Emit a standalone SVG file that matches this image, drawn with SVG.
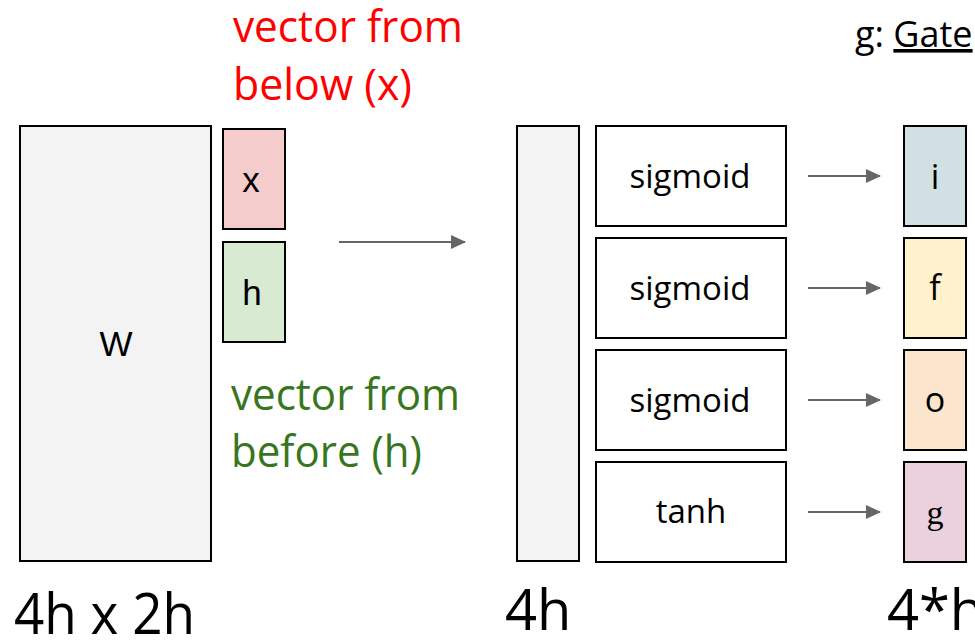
<svg xmlns="http://www.w3.org/2000/svg" width="975" height="640" viewBox="0 0 975 640">
<style>
.box{stroke:#000;stroke-width:2}
.t{font-family:"Open Sans","Noto Sans",sans-serif;fill:#000}
.a{font-family:"Liberation Sans",Arial,sans-serif;fill:#000;font-size:35px;text-anchor:middle}
.conn{stroke:#666;stroke-width:2;fill:none;marker-end:url(#ah)}
</style>
<defs>
<marker id="ah" markerWidth="8" markerHeight="8" refX="7" refY="4" orient="auto" markerUnits="strokeWidth">
<path d="M0,0.5 L7.5,4 L0,7.5 Z" fill="#666"/>
</marker>
</defs>
<rect width="975" height="640" fill="#fff"/>

<g id="label-x" class="t" font-size="43">
<text x="233" y="42" textLength="230" lengthAdjust="spacingAndGlyphs" style="fill:#ff0000">vector from</text>
<text x="233" y="100" textLength="179" lengthAdjust="spacingAndGlyphs" style="fill:#ff0000">below (x)</text>
</g>
<g id="label-h" class="t" font-size="43">
<text x="231" y="410" textLength="229" lengthAdjust="spacingAndGlyphs" style="fill:#38761d">vector from</text>
<text x="231" y="467" textLength="191" lengthAdjust="spacingAndGlyphs" style="fill:#38761d">before (h)</text>
</g>
<g id="gate-title" class="t" font-size="36">
<text x="855" y="47">g: <tspan text-decoration="underline">Gate</tspan></text>
</g>

<g id="W">
<rect class="box" x="20" y="126" width="191" height="435" fill="#f3f3f3"/>
<text class="a" x="116" y="356" font-size="32">W</text>
</g>
<g id="x">
<rect class="box" x="223" y="129" width="62" height="100" fill="#f4cccc"/>
<text class="a" x="251" y="192">x</text>
</g>
<g id="h">
<rect class="box" x="223" y="242" width="62" height="100" fill="#d9ead3"/>
<text class="a" x="252" y="305">h</text>
</g>
<g id="v4h">
<rect class="box" x="517" y="126" width="62" height="435" fill="#f3f3f3"/>
</g>
<g id="sig1">
<rect class="box" x="596" y="126" width="190" height="100" fill="#fff"/>
<text class="t" x="690" y="188" font-size="33" text-anchor="middle">sigmoid</text>
</g>
<g id="sig2">
<rect class="box" x="596" y="238" width="190" height="100" fill="#fff"/>
<text class="t" x="690" y="300" font-size="33" text-anchor="middle">sigmoid</text>
</g>
<g id="sig3">
<rect class="box" x="596" y="350" width="190" height="100" fill="#fff"/>
<text class="t" x="690" y="412" font-size="33" text-anchor="middle">sigmoid</text>
</g>
<g id="tanh">
<rect class="box" x="596" y="462" width="190" height="100" fill="#fff"/>
<text class="t" x="691" y="523" font-size="33" text-anchor="middle">tanh</text>
</g>
<g id="gi">
<rect class="box" x="904" y="126" width="62" height="100" fill="#d0e0e3"/>
<text class="t" x="935" y="189" font-size="34" text-anchor="middle">i</text>
</g>
<g id="gf">
<rect class="box" x="904" y="238" width="62" height="100" fill="#fff2cc"/>
<text class="t" x="935" y="300" font-size="34" text-anchor="middle">f</text>
</g>
<g id="go">
<rect class="box" x="904" y="350" width="62" height="100" fill="#fce5cd"/>
<text class="t" x="935" y="412" font-size="34" text-anchor="middle">o</text>
</g>
<g id="gg">
<rect class="box" x="904" y="462" width="62" height="100" fill="#ead1dc"/>
<text x="935" y="524" font-size="34" text-anchor="middle" font-family="'Liberation Serif',serif">g</text>
</g>

<g id="connectors">
<line class="conn" x1="339" y1="242" x2="465" y2="242"/>
<line class="conn" x1="808" y1="176" x2="880" y2="176"/>
<line class="conn" x1="808" y1="288" x2="880" y2="288"/>
<line class="conn" x1="808" y1="400" x2="880" y2="400"/>
<line class="conn" x1="808" y1="512" x2="880" y2="512"/>
</g>

<g id="dims" class="t" font-size="56">
<text x="14" y="634" textLength="181" lengthAdjust="spacingAndGlyphs">4h x 2h</text>
<text x="505" y="630">4h</text>
<text x="887" y="630">4*h</text>
</g>
</svg>
